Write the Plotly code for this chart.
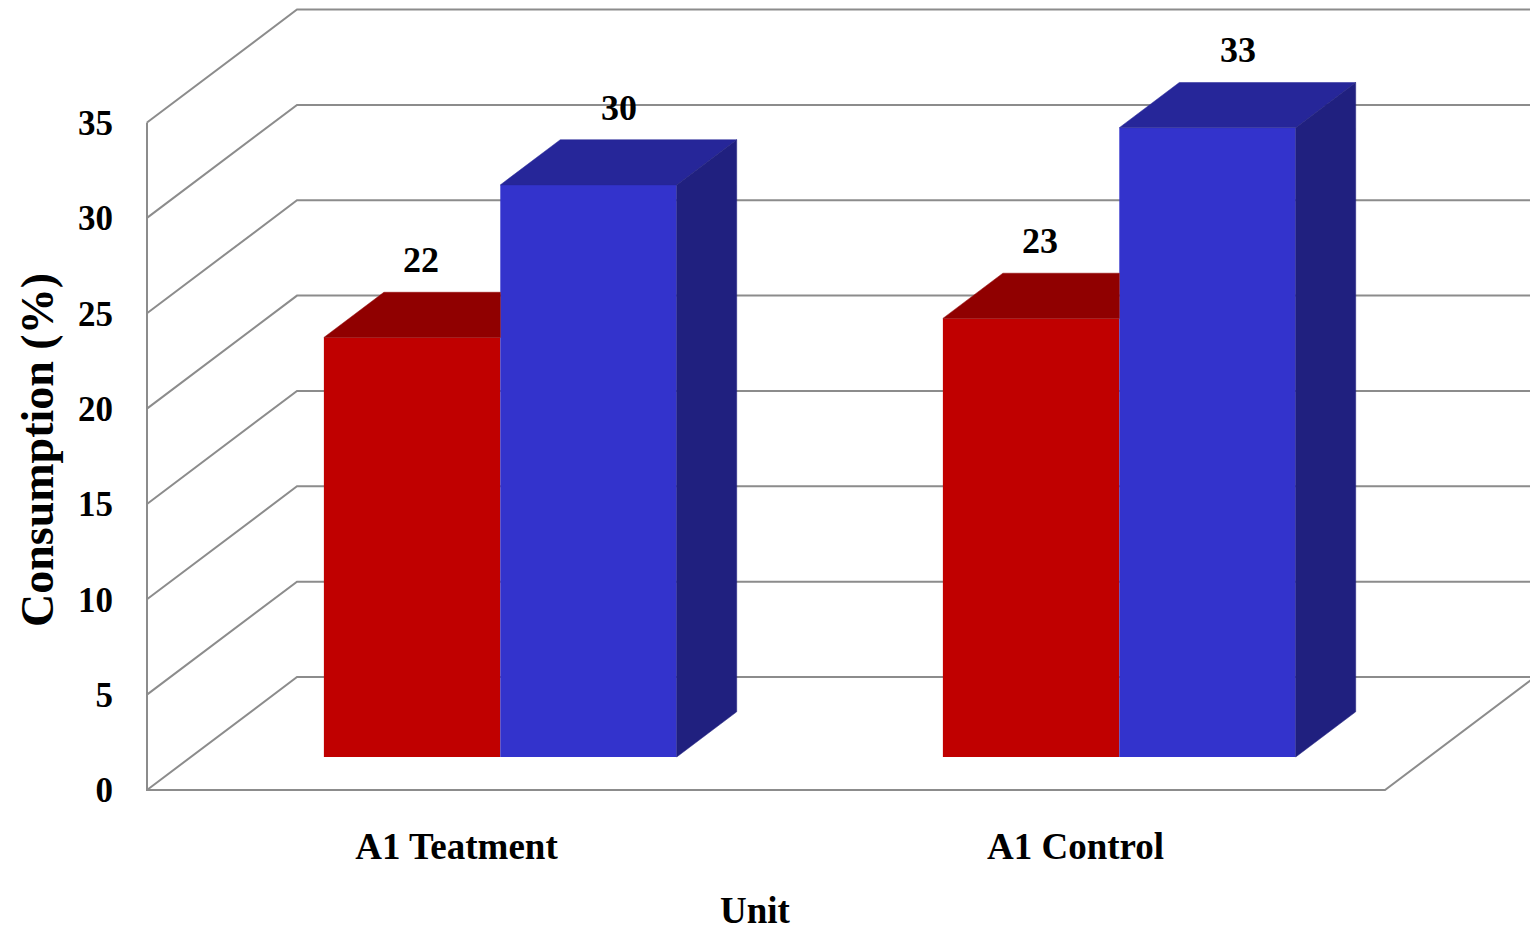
import plotly.graph_objects as go

# ---------------- data ----------------
categories = ["A1 Teatment", "A1 Control"]
series_names = ["Series A", "Series B"]
red_values = [22, 23]
blue_values = [30, 33]
y_ticks = [0, 5, 10, 15, 20, 25, 30, 35]
y_axis_title = "Consumption (%)"
x_axis_title = "Unit"

# ---------------- style / geometry ----------------
FONT = "Liberation Serif, Times New Roman, serif"
GRID = "#8c8c8c"
RED_FRONT, RED_TOP = "#c00000", "#900000"
BLUE_FRONT, BLUE_TOP, BLUE_SIDE = "#3333cc", "#262699", "#20207f"

OFF = 8                     # page body margin
W, H = 1538 - OFF, 930 - OFF
L, R, T, B = 122, 0, 0, 122
PX_X = 619.0                # pixels per category unit
PX_Y = 19.07                # pixels per value unit
X0_PX = 147 - OFF           # figure pixel of x=0
Y0_PX = 790 - OFF           # figure pixel of y=0

DX = 150 / PX_X   # depth offset (x units)
DY = 113 / PX_Y   # depth offset (value units)
F0 = 0.292        # depth fraction of bar front
FD = 0.4          # depth fraction of bar thickness
BW = 0.285        # bar width (category units)

plot_w = W - L - R
plot_h = H - T - B
x_lo = (L - X0_PX) / PX_X
x_range = [x_lo, x_lo + plot_w / PX_X]
y_lo = (Y0_PX - (T + plot_h)) / PX_Y
y_range = [y_lo, y_lo + plot_h / PX_Y]

n_cat = len(categories)
cat_pos = [i + 0.5 for i in range(n_cat)]
base = DY * F0
ddx, ddy = DX * FD, DY * FD

fig = go.Figure()

# ---------------- walls / grid (shapes below traces) ----------------
shapes = []
for v in y_ticks:
    shapes.append(dict(type="path", xref="x", yref="y", layer="below",
                       path=f"M 0,{v} L {DX},{v + DY} L {n_cat + DX},{v + DY}",
                       line=dict(color=GRID, width=2)))
shapes.append(dict(type="path", xref="x", yref="y", layer="below",
                   path=f"M 0,{y_ticks[-1]} L 0,0 L {n_cat},0 L {n_cat + DX},{DY}",
                   line=dict(color=GRID, width=2)))

# ---------------- front faces (bars) ----------------
xf = [c + DX * F0 for c in cat_pos]
fig.add_trace(go.Bar(x=xf, y=red_values, base=base, width=BW, offset=-BW,
                     marker=dict(color=RED_FRONT, line=dict(width=0)),
                     name=series_names[0], showlegend=False, hoverinfo="y"))
fig.add_trace(go.Bar(x=xf, y=blue_values, base=base, width=BW, offset=0,
                     marker=dict(color=BLUE_FRONT, line=dict(width=0)),
                     name=series_names[1], showlegend=False, hoverinfo="y"))


def poly(xs, ys, color):
    fig.add_trace(go.Scatter(x=xs + [xs[0]], y=ys + [ys[0]], mode="lines",
                             fill="toself", fillcolor=color,
                             line=dict(color=color, width=0.5),
                             hoverinfo="skip", showlegend=False))


annotations = []
for i in range(n_cat):
    xc = xf[i]
    # red bar: top face visible only left of the taller blue bar
    rt = base + red_values[i]
    x0, x1 = xc - BW, xc
    poly([x0, x1, x1, x0 + ddx], [rt, rt, rt + ddy, rt + ddy], RED_TOP)
    # blue bar: top and side faces
    bt = base + blue_values[i]
    b0, b1 = xc, xc + BW
    poly([b0, b1, b1 + ddx, b0 + ddx], [bt, bt, bt + ddy, bt + ddy], BLUE_TOP)
    poly([b1, b1 + ddx, b1 + ddx, b1], [base, base + ddy, bt + ddy, bt], BLUE_SIDE)
    # value labels
    for val, xm, xs in ((red_values[i], x0 + BW / 2, 9), (blue_values[i], b0 + BW / 2, 30)):
        annotations.append(dict(x=xm, y=base + val + ddy, xref="x", yref="y",
                                text=str(val), showarrow=False, xshift=xs, yshift=32,
                                font=dict(family=FONT, size=36, color="black", weight="bold")))

annotations.append(dict(text=y_axis_title, xref="paper", yref="paper",
                        x=(37 - OFF - L) / plot_w, y=(T + plot_h - (450 - OFF)) / plot_h,
                        textangle=-90, showarrow=False, xanchor="center", yanchor="middle",
                        font=dict(family=FONT, size=46, color="black", weight="bold")))
annotations.append(dict(text=x_axis_title, xref="paper", yref="paper",
                        x=(755 - OFF - L) / plot_w, y=(T + plot_h - (910 - OFF)) / plot_h,
                        showarrow=False, xanchor="center", yanchor="middle",
                        font=dict(family=FONT, size=37, color="black", weight="bold")))

fig.update_layout(
    width=W, height=H,
    margin=dict(l=L, r=R, t=T, b=B),
    paper_bgcolor="white", plot_bgcolor="white",
    barmode="overlay", showlegend=False,
    shapes=shapes, annotations=annotations,
    xaxis=dict(range=x_range, tickvals=cat_pos, ticktext=categories,
               showgrid=False, zeroline=False, showline=False,
               ticks="outside", ticklen=6, tickcolor="rgba(0,0,0,0)",
               tickfont=dict(family=FONT, size=37, color="black", weight="bold"),
               fixedrange=True),
    yaxis=dict(range=y_range, tickvals=y_ticks,
               showgrid=False, zeroline=False, showline=False,
               ticks="outside", ticklen=9, tickcolor="rgba(0,0,0,0)",
               tickfont=dict(family=FONT, size=35, color="black", weight="bold"),
               fixedrange=True),
)

fig.write_html("out.html")
